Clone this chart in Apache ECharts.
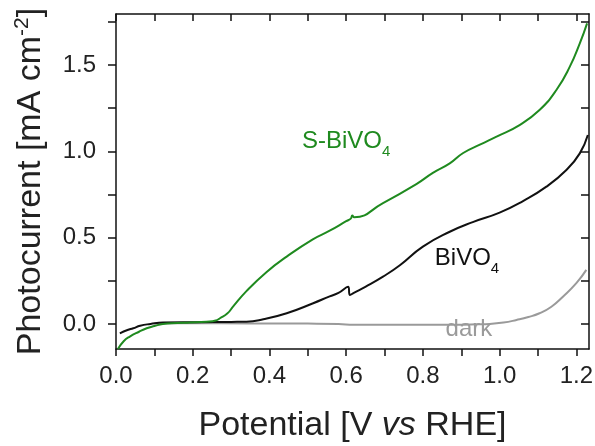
<!DOCTYPE html>
<html>
<head>
<meta charset="utf-8">
<script src="https://cdn.jsdelivr.net/npm/echarts@6/dist/echarts.min.js"></script>
<style>
  html, body { margin: 0; padding: 0; background: #fff; }
  .demo { width: 595px; height: 446px; }
</style>
</head>
<body>
<div class="demo"></div>
<script>
// potential [V vs RHE] and photocurrent [mA cm-2]
const sBiVO4X = [0.005, 0.02, 0.036, 0.06, 0.08, 0.1, 0.122, 0.16, 0.193, 0.236, 0.26, 0.271, 0.29, 0.305, 0.34, 0.392, 0.445, 0.513, 0.557, 0.60, 0.612, 0.616, 0.621, 0.696, 0.783, 0.826, 0.87, 0.905, 0.95, 0.992, 1.052, 1.104, 1.148, 1.183, 1.209, 1.228]
const sBiVO4Y = [-0.145, -0.1, -0.073, -0.045, -0.025, -0.012, 0.0, 0.005, 0.008, 0.013, 0.02, 0.033, 0.06, 0.1, 0.19, 0.3, 0.39, 0.49, 0.54, 0.595, 0.61, 0.628, 0.618, 0.70, 0.81, 0.875, 0.93, 0.99, 1.04, 1.085, 1.152, 1.239, 1.355, 1.49, 1.625, 1.741]
const biVO4X = [0.01, 0.03, 0.045, 0.063, 0.09, 0.123, 0.21, 0.3, 0.34, 0.384, 0.445, 0.514, 0.557, 0.58, 0.605, 0.61, 0.62, 0.65, 0.696, 0.74, 0.8, 0.87, 0.93, 1.0, 1.061, 1.122, 1.174, 1.209, 1.23]
const biVO4Y = [-0.054, -0.035, -0.025, -0.01, 0.0, 0.008, 0.01, 0.012, 0.013, 0.027, 0.062, 0.12, 0.16, 0.18, 0.215, 0.168, 0.18, 0.215, 0.274, 0.34, 0.448, 0.534, 0.59, 0.645, 0.712, 0.795, 0.892, 0.988, 1.094]
const darkX = [0.1, 0.2, 0.35, 0.5, 0.58, 0.62, 0.7, 0.8, 0.887, 0.94, 0.974, 1.01, 1.044, 1.075, 1.104, 1.135, 1.165, 1.2, 1.226]
const darkY = [0.003, 0.005, 0.003, 0.002, 0.0, -0.005, -0.005, -0.005, -0.004, -0.002, 0.0, 0.008, 0.023, 0.04, 0.062, 0.1, 0.158, 0.236, 0.313]

const xLabels = [0, 0.2, 0.4, 0.6, 0.8, 1.0, 1.2]
const xTicks = [0, 0.1, 0.2, 0.3, 0.4, 0.5, 0.6, 0.7, 0.8, 0.9, 1.0, 1.1, 1.2]
const yLabels = [0, 0.5, 1.0, 1.5]
const yTicks = [0, 0.25, 0.5, 0.75, 1.0, 1.25, 1.5, 1.75]

const xMin = 0, xMax = 1.233
const yMin = -0.145, yMax = 1.795

const green = '#1f8a1f'
const gray = '#9a9a9a'
const font = 'Liberation Sans, Arial, sans-serif'

function pairs(xs, ys) {
  return xs.map((x, i) => [x, ys[i]])
}

(function () {
  const chartinstance = echarts.init(document.querySelector('.demo'))

  const axisLine = { show: true, onZero: false, lineStyle: { color: '#111', width: 1.5 } }

  const option = {
    animation: false,
    grid: { left: 116, right: 6, top: 14, bottom: 97, outerBoundsMode: 'none' },
    xAxis: [
      {
        type: 'value', position: 'bottom', min: xMin, max: xMax,
        axisLine: axisLine,
        axisTick: { show: true, customValues: xTicks, length: 7, lineStyle: { color: '#111', width: 1.5 } },
        axisLabel: { customValues: xLabels, margin: 15, fontSize: 24, color: '#222', fontFamily: font,
          formatter: v => v.toFixed(1) },
        splitLine: { show: false },
        name: 'Potential [V {i|vs} RHE]',
        nameLocation: 'middle', nameGap: 60,
        nameTextStyle: { fontSize: 34, color: '#222', fontFamily: font,
          rich: { i: { fontSize: 34, fontStyle: 'italic', color: '#222', fontFamily: font } } }
      },
      {
        type: 'value', position: 'top', min: xMin, max: xMax,
        axisLine: axisLine,
        axisTick: { show: true, inside: true, customValues: xTicks, length: 7, lineStyle: { color: '#111', width: 1.5 } },
        axisLabel: { show: false },
        splitLine: { show: false }
      }
    ],
    yAxis: [
      {
        type: 'value', position: 'left', min: yMin, max: yMax,
        axisLine: axisLine,
        axisTick: { show: true, customValues: yTicks, length: 8, lineStyle: { color: '#111', width: 1.5 } },
        axisLabel: { customValues: yLabels, margin: 20, fontSize: 24, color: '#222', fontFamily: font,
          formatter: v => v.toFixed(1) },
        splitLine: { show: false },
        name: 'Photocurrent [mA cm{sup|-2}]',
        nameLocation: 'middle', nameGap: 66, nameRotate: 90,
        nameTextStyle: { fontSize: 34, color: '#222', fontFamily: font, lineHeight: 38,
          rich: { sup: { fontSize: 21, lineHeight: 21, verticalAlign: 'top', color: '#222', fontFamily: font } } }
      },
      {
        type: 'value', position: 'right', min: yMin, max: yMax,
        axisLine: axisLine,
        axisTick: { show: true, inside: true, customValues: yTicks, length: 8, lineStyle: { color: '#111', width: 1.5 } },
        axisLabel: { show: false },
        splitLine: { show: false }
      }
    ],
    series: [
      {
        name: 'dark', type: 'line', data: pairs(darkX, darkY),
        symbol: 'none', smooth: true,
        lineStyle: { color: gray, width: 2 }
      },
      {
        name: 'BiVO4', type: 'line', data: pairs(biVO4X, biVO4Y),
        symbol: 'none', smooth: true,
        lineStyle: { color: '#111', width: 2 }
      },
      {
        name: 'S-BiVO4', type: 'line', data: pairs(sBiVO4X, sBiVO4Y),
        symbol: 'none', smooth: true,
        lineStyle: { color: green, width: 2 }
      }
    ]
  }
  option && chartinstance.setOption(option)

  // curve labels, anchored in data coordinates
  function label(text, at, color) {
    const p = chartinstance.convertToPixel({ xAxisIndex: 0, yAxisIndex: 0 }, at)
    return {
      type: 'text', x: p[0], y: p[1],
      style: {
        text: text, fill: color, align: 'center', verticalAlign: 'middle',
        rich: {
          a: { fontSize: 24, fill: color, lineHeight: 30, verticalAlign: 'top', fontFamily: font },
          s: { fontSize: 15, fill: color, lineHeight: 15, verticalAlign: 'bottom', fontFamily: font }
        }
      }
    }
  }
  chartinstance.setOption({
    graphic: [
      label('{a|S-BiVO}{s|4}', [0.6, 1.04], green),
      label('{a|BiVO}{s|4}', [0.915, 0.36], '#111'),
      label('{a|dark}', [0.92, -0.05], gray)
    ]
  })

  window.addEventListener('resize', () => {
    chartinstance.resize()
  })
})();
</script>
</body>
</html>
